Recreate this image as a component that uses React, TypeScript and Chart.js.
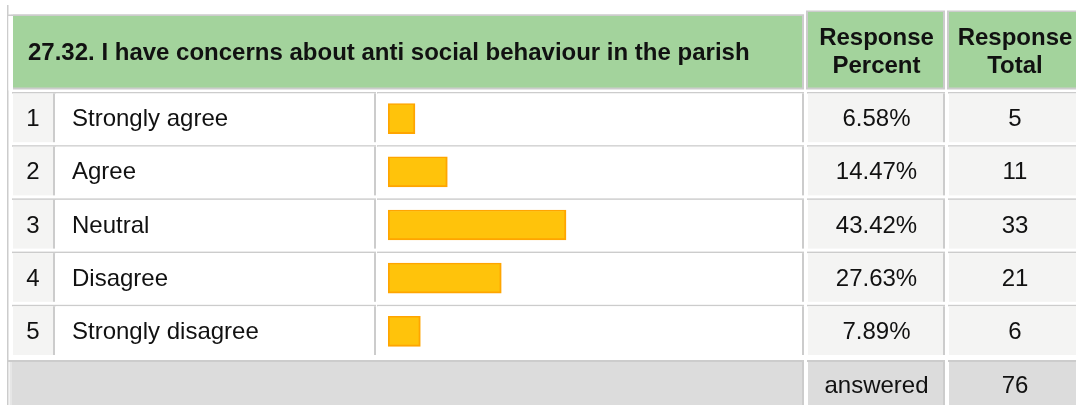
import React, { useEffect, useRef } from "react";
import { Chart, registerables } from "chart.js";

Chart.register(...registerables);

const question = "27.32. I have concerns about anti social behaviour in the parish";
const headerPercent = ["Response", "Percent"];
const headerTotal = ["Response", "Total"];
const rowNumbers = ["1", "2", "3", "4", "5"];
const categories = ["Strongly agree", "Agree", "Neutral", "Disagree", "Strongly disagree"];
const percents = [6.58, 14.47, 43.42, 27.63, 7.89];
const totals = [5, 11, 33, 21, 6];
const answeredLabel = "answered";
const answeredTotal = 76;

const W = 1076;
const H = 405;
const FONT = '"Liberation Sans", Arial, sans-serif';
const GREEN = "#A3D39C";
const BORDER = "#CCCCCC";
const CELL_GRAY = "#F4F4F3";
const FOOT_GRAY = "#DCDCDC";
const TEXT = "#111111";

// column extents (background x0..x1, right border x1..x1+2)
const COL_IDX = [13, 53];
const COL_LABEL = [56, 374];
const COL_BAR = [378, 802];
const COL_PCT = [808, 943];
const COL_TOT = [949, 1085];

const tablePlugin = {
  id: "surveyTable",
  beforeDraw(chart: any) {
    const ctx = chart.ctx as CanvasRenderingContext2D;
    const ys = chart.scales.y;
    const n = categories.length;
    const band = (ys.bottom - ys.top) / n;
    ctx.save();
    ctx.fillStyle = "#ffffff";
    ctx.fillRect(0, 0, W, H);

    // outer left line
    ctx.fillStyle = BORDER;
    ctx.fillRect(7, 5, 1.5, H - 5);

    // header cells
    const drawHeaderCell = (x0: number, x1: number, y0: number, y1: number) => {
      ctx.fillStyle = BORDER;
      ctx.fillRect(x0 - 2, y0 - 1.5, x1 - x0 + 4, y1 - y0 + 3.5);
      ctx.fillStyle = GREEN;
      ctx.fillRect(x0, y0, x1 - x0, y1 - y0);
    };
    drawHeaderCell(13, 802, 16, 87.5);
    ctx.fillStyle = "#ffffff";
    ctx.fillRect(8.5, 14.5, 4.5, 76);
    ctx.fillStyle = BORDER;
    ctx.fillRect(8, 14.5, 796, 1.5);
    drawHeaderCell(COL_PCT[0], COL_PCT[1], 12, 87.5);
    drawHeaderCell(COL_TOT[0], COL_TOT[1], 12, 87.5);

    ctx.fillStyle = TEXT;
    ctx.font = `bold 24px ${FONT}`;
    ctx.textAlign = "left";
    ctx.textBaseline = "alphabetic";
    ctx.fillText(question, 28, 60);
    ctx.textAlign = "center";
    const pc = (COL_PCT[0] + COL_PCT[1]) / 2 + 1;
    const tc = 1015;
    ctx.fillText(headerPercent[0], pc, 45);
    ctx.fillText(headerPercent[1], pc, 73);
    ctx.fillText(headerTotal[0], tc, 45);
    ctx.fillText(headerTotal[1], tc, 73);

    // body rows
    const cell = (col: number[], top: number, bg: string) => {
      const bgTop = top + 1.5;
      const bgBot = top + band - 3;
      ctx.fillStyle = BORDER;
      ctx.fillRect(col[0] - 1, top, col[1] - col[0] + 3, 1.5);
      ctx.fillRect(col[1], bgTop, 2, bgBot - bgTop);
      ctx.fillStyle = bg;
      ctx.fillRect(col[0], bgTop, col[1] - col[0], bgBot - bgTop);
    };
    for (let i = 0; i < n; i++) {
      const center = ys.getPixelForValue(i);
      const top = center - band / 2;
      cell(COL_IDX, top, CELL_GRAY);
      cell(COL_LABEL, top, "#ffffff");
      cell(COL_BAR, top, "#ffffff");
      cell(COL_PCT, top, CELL_GRAY);
      cell(COL_TOT, top, CELL_GRAY);

      const base = center + 7.5;
      ctx.fillStyle = TEXT;
      ctx.font = `24px ${FONT}`;
      ctx.textAlign = "center";
      ctx.fillText(rowNumbers[i], (COL_IDX[0] + COL_IDX[1]) / 2, base);
      ctx.fillText(percents[i].toFixed(2) + "%", pc, base);
      ctx.fillText(String(totals[i]), tc, base);
      ctx.textAlign = "left";
      ctx.fillText(categories[i], 72, base);
    }

    // footer
    const fTop = ys.bottom + 2;
    ctx.fillStyle = BORDER;
    ctx.fillRect(8, fTop, 796, 2);
    ctx.fillRect(COL_PCT[0] - 1, fTop, COL_PCT[1] - COL_PCT[0] + 3, 2);
    ctx.fillRect(COL_TOT[0] - 1, fTop, COL_TOT[1] - COL_TOT[0] + 3, 2);
    ctx.fillStyle = "#E6E6E6";
    ctx.fillRect(9.5, fTop + 2, 2.5, H - fTop);
    ctx.fillStyle = FOOT_GRAY;
    ctx.fillRect(12, fTop + 2, 790, H - fTop);
    ctx.fillRect(COL_PCT[0], fTop + 2, COL_PCT[1] - COL_PCT[0], H - fTop);
    ctx.fillRect(COL_TOT[0], fTop + 2, COL_TOT[1] - COL_TOT[0], H - fTop);
    ctx.fillStyle = BORDER;
    ctx.fillRect(COL_BAR[1], fTop + 2, 2, H - fTop);
    ctx.fillRect(COL_PCT[1], fTop + 2, 2, H - fTop);

    ctx.fillStyle = TEXT;
    ctx.font = `24px ${FONT}`;
    ctx.textAlign = "center";
    ctx.fillText(answeredLabel, pc, 393);
    ctx.fillText(String(answeredTotal), tc, 393);
    ctx.restore();
  },
};

export default function App() {
  const ref = useRef<HTMLCanvasElement>(null);
  useEffect(() => {
    if (!ref.current) return;
    const chart = new Chart(ref.current, {
      type: "bar",
      data: {
        labels: categories,
        datasets: [
          {
            data: percents,
            backgroundColor: "#FFC30B",
            borderColor: "#FFA500",
            borderWidth: { top: 1.5, left: 2, right: 2, bottom: 2 },
            borderSkipped: false,
            barThickness: 30,
          },
        ],
      },
      options: {
        indexAxis: "y",
        animation: false,
        responsive: false,
        devicePixelRatio: 1,
        layout: { padding: { left: 388, right: W - 798, top: 92, bottom: H - 358 } },
        plugins: { legend: { display: false }, tooltip: { enabled: false }, title: { display: false } },
        scales: {
          x: { min: 0, max: 100, display: false },
          y: { display: false },
        },
      },
      plugins: [tablePlugin],
    } as any);
    return () => chart.destroy();
  }, []);
  return (
    <div style={{ position: "absolute", left: 0, top: 0, width: W, height: H, background: "#fff" }}>
      <canvas ref={ref} width={W} height={H} style={{ display: "block", width: W, height: H }} />
    </div>
  );
}
